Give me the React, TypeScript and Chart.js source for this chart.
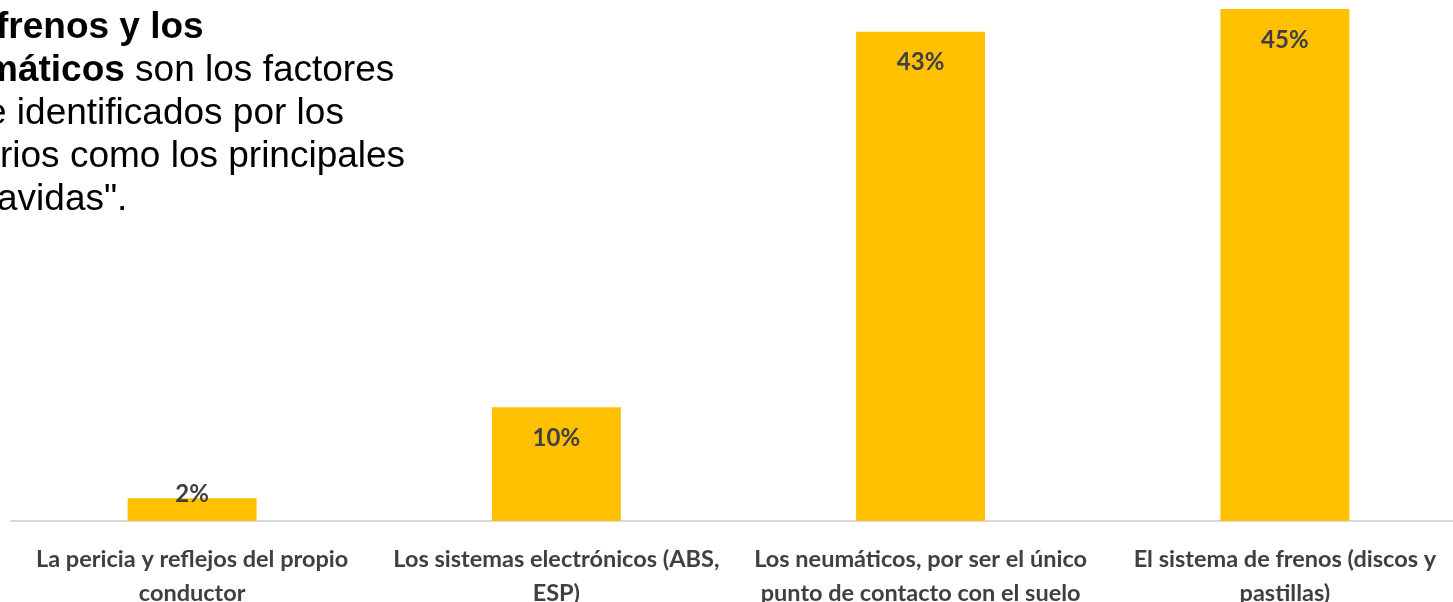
import React, { useEffect, useRef } from "react";
import { Chart, registerables } from "chart.js";

Chart.register(...registerables);

const categories: string[][] = [
  ["La pericia y reflejos del propio", "conductor"],
  ["Los sistemas electrónicos (ABS,", "ESP)"],
  ["Los neumáticos, por ser el único", "punto de contacto con el suelo"],
  ["El sistema de frenos (discos y", "pastillas)"],
];
const values: number[] = [2, 10, 43, 45];
const valueLabels: string[] = ["2%", "10%", "43%", "45%"];

const barColor = "#FFC000";
const textColor = "#404040";

const dataLabelPlugin = {
  id: "valueLabels",
  afterDatasetsDraw(chart: any) {
    const { ctx } = chart;
    const meta = chart.getDatasetMeta(0);
    const base = chart.scales.y.getPixelForValue(0);
    ctx.save();
    ctx.font = "bold 24px Lato";
    ctx.fillStyle = textColor;
    ctx.textAlign = "center";
    ctx.textBaseline = "middle";
    meta.data.forEach((bar: any, i: number) => {
      const y = Math.min(bar.y + 31, base - 27);
      ctx.fillText(valueLabels[i], bar.x, y);
    });
    ctx.restore();
  },
};

export default function App() {
  const canvasRef = useRef<HTMLCanvasElement | null>(null);

  useEffect(() => {
    if (!canvasRef.current) return;
    const chart = new Chart(canvasRef.current, {
      type: "bar",
      data: {
        labels: categories,
        datasets: [
          {
            data: values,
            backgroundColor: barColor,
            borderWidth: 0,
            barPercentage: 0.354,
            categoryPercentage: 1,
          },
        ],
      },
      options: {
        responsive: false,
        animation: false,
        layout: { padding: { top: 9, left: 0, right: 0, bottom: 0 } },
        plugins: {
          legend: { display: false },
          tooltip: { enabled: false },
          title: { display: false },
        },
        scales: {
          y: { display: false, min: 0, max: 45 },
          x: {
            grid: { display: false, drawTicks: false },
            border: { display: true, color: "#D9D9D9", width: 2 },
            ticks: {
              color: textColor,
              autoSkip: false,
              maxRotation: 0,
              minRotation: 0,
              padding: 21,
              font: { family: "Lato", weight: "bold", size: 23.5, lineHeight: "34px" },
            },
            afterFit: (s: any) => {
              s.height = 81;
            },
          },
        },
      },
      plugins: [dataLabelPlugin],
    });
    return () => chart.destroy();
  }, []);

  const lineStyle: React.CSSProperties = {
    position: "relative",
    whiteSpace: "nowrap",
    height: 43,
    lineHeight: "43px",
  };

  return (
    <div
      style={{
        position: "fixed",
        left: 0,
        top: 0,
        width: "100vw",
        height: "100vh",
        overflow: "hidden",
        background: "#ffffff",
      }}
    >
      <canvas
        ref={canvasRef}
        width={1457}
        height={602}
        style={{ position: "absolute", left: 10, top: 0, width: 1457, height: 602 }}
      />
      <div
        style={{
          position: "absolute",
          left: 0,
          top: 4,
          fontFamily: "'Liberation Sans', Arial, sans-serif",
          fontSize: 37,
          color: "#000000",
        }}
      >
        <div style={{ ...lineStyle, left: -4 }}>
          <b>frenos y los</b>
        </div>
        <div style={{ ...lineStyle, left: -15 }}>
          <b>máticos</b> son los factores
        </div>
        <div style={{ ...lineStyle, left: -14 }}>e identificados por los</div>
        <div style={{ ...lineStyle, left: 0 }}>rios como los principales</div>
        <div style={{ ...lineStyle, left: -3 }}>avidas".</div>
      </div>
    </div>
  );
}
